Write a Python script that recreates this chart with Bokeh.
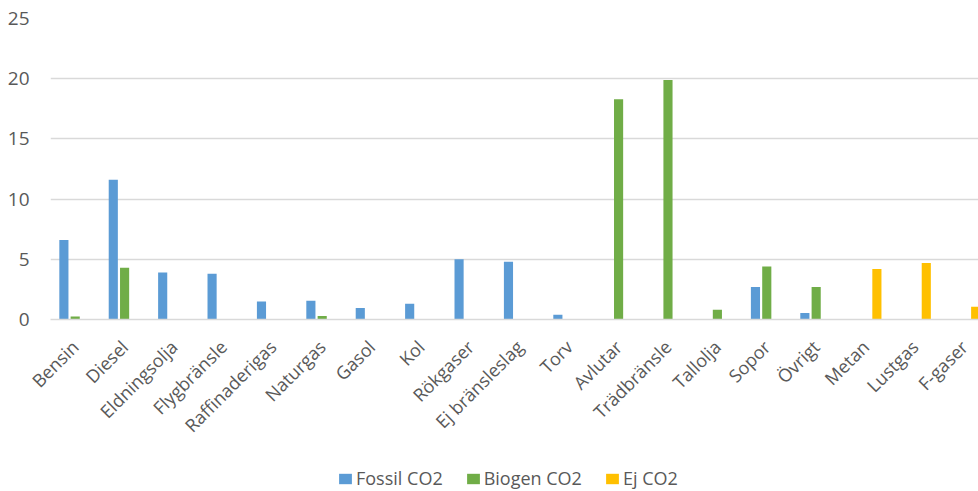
from bokeh.plotting import figure
from bokeh.layouts import column
from bokeh.models import Range1d, FixedTicker, Legend, LegendItem
from bokeh.embed import file_html
from bokeh.resources import INLINE
import math

categories = ["Bensin", "Diesel", "Eldningsolja", "Flygbränsle", "Raffinaderigas",
              "Naturgas", "Gasol", "Kol", "Rökgaser", "Ej bränsleslag", "Torv",
              "Avlutar", "Trädbränsle", "Tallolja", "Sopor", "Övrigt", "Metan",
              "Lustgas", "F-gaser"]
fossil_co2 = [6.6, 11.6, 3.9, 3.8, 1.5, 1.55, 0.95, 1.3, 5.0, 4.8, 0.4,
              0, 0, 0, 2.7, 0.55, 0, 0, 0]
biogen_co2 = [0.25, 4.3, 0, 0, 0, 0.3, 0, 0, 0, 0, 0,
              18.3, 19.9, 0.8, 4.4, 2.7, 0, 0, 0]
ej_co2 = [0, 0, 0, 0, 0, 0, 0, 0, 0, 0, 0,
          0, 0, 0, 0, 0, 4.2, 4.7, 1.05]
series_names = ["Fossil CO2", "Biogen CO2", "Ej CO2"]
series_colors = ["#5B9BD5", "#70AD47", "#FFC000"]
y_ticks = [0, 5, 10, 15, 20, 25]

FONT = "Open Sans"
TEXT = "#595959"
GRID = "#d9d9d9"

idx = list(range(len(categories)))
offset = 0.229
bw = 0.185
series = [fossil_co2, biogen_co2, ej_co2]

# main chart
p = figure(width=978, height=448, output_backend="svg", toolbar_location=None,
           x_range=Range1d(-0.5, 18.286), y_range=Range1d(0, 25),
           min_border_left=50, min_border_right=0, min_border_top=18,
           min_border_bottom=129)
p.outline_line_color = None

for k, (vals, col) in enumerate(zip(series, series_colors)):
    xs = [i + (k - 1) * offset for i in idx]
    p.vbar(x=xs, top=vals, bottom=0, width=bw, fill_color=col, line_color=None)

p.yaxis.ticker = FixedTicker(ticks=y_ticks)
p.yaxis.axis_line_color = None
p.yaxis.major_tick_line_color = None
p.yaxis.minor_tick_line_color = None
p.yaxis.major_tick_out = 0
p.yaxis.major_tick_in = 0
p.yaxis.major_label_standoff = 21
p.yaxis.major_label_text_font = FONT
p.yaxis.major_label_text_font_size = "19px"
p.yaxis.major_label_text_color = TEXT

p.xaxis.ticker = FixedTicker(ticks=idx)
p.xaxis.major_label_overrides = {i: c for i, c in enumerate(categories)}
p.xaxis.major_label_orientation = math.pi / 4
p.xaxis.axis_line_color = GRID
p.xaxis.axis_line_width = 1.5
p.xaxis.major_tick_line_color = None
p.xaxis.minor_tick_line_color = None
p.xaxis.major_tick_out = 0
p.xaxis.major_tick_in = 0
p.xaxis.major_label_standoff = 24
p.xaxis.major_label_text_font = FONT
p.xaxis.major_label_text_font_size = "18px"
p.xaxis.major_label_text_color = TEXT

p.xgrid.grid_line_color = None
p.ygrid.grid_line_color = GRID
p.ygrid.grid_line_width = 1.5

# legend strip underneath; its bars lie far outside the strip's visible
# ranges, so only the legend swatches show
leg = figure(width=978, height=43, output_backend="svg", toolbar_location=None,
             x_axis_type=None, y_axis_type=None,
             x_range=Range1d(1000, 1001), y_range=Range1d(1000, 1001),
             min_border=0)
leg.outline_line_color = None
leg.grid.visible = False
items = []
for k, (n, vals, col) in enumerate(zip(series_names, series, series_colors)):
    xs = [i + (k - 1) * offset for i in idx]
    r = leg.vbar(x=xs, top=vals, bottom=0, width=bw, fill_color=col, line_color=None)
    items.append(LegendItem(label=n, renderers=[r]))
legend = Legend(items=items, orientation="horizontal", location=(287, 1),
                label_text_font=FONT, label_text_font_size="18px",
                label_text_color=TEXT, glyph_width=16, glyph_height=13,
                label_standoff=3, spacing=22, padding=0, margin=0,
                border_line_color=None, background_fill_alpha=0)
leg.add_layout(legend, "center")

layout = column(p, leg, spacing=0)
open("out.html", "w").write(file_html(layout, INLINE))
